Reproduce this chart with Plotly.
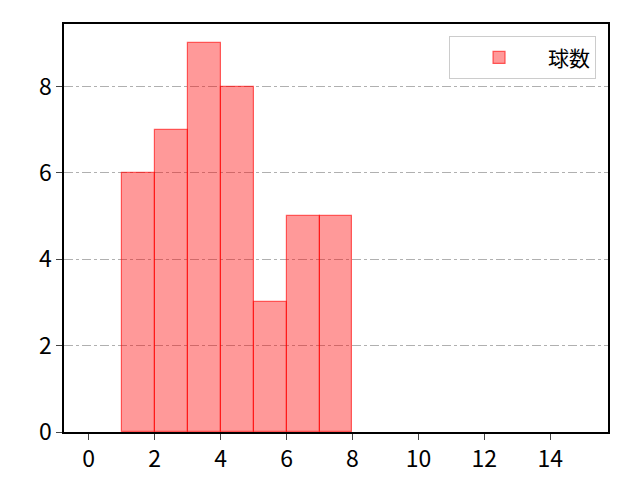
import plotly.graph_objects as go

# histogram bins (left edges) and counts
bin_left = [1, 2, 3, 4, 5, 6, 7]
counts = [6, 7, 9, 8, 3, 5, 5]
x_ticks = [0, 2, 4, 6, 8, 10, 12, 14]
y_ticks = [0, 2, 4, 6, 8]

fig = go.Figure()
fig.add_trace(go.Bar(
    x=[b + 0.5 for b in bin_left],
    y=counts,
    width=1,
    name="球数",
    showlegend=True,
    marker=dict(color="rgba(255,0,0,0.4)",
                line=dict(color="rgba(255,0,0,0.6)", width=1.2)),
))

# page body has an 8px margin, so offsets are trimmed here
fig.update_layout(
    width=640, height=480,
    margin=dict(l=56, r=40, t=16, b=56),
    plot_bgcolor="white",
    paper_bgcolor="white",
    font=dict(family="Noto Sans CJK JP", size=22, color="black"),
    bargap=0,
    legend=dict(x=0.978, y=0.97, xanchor="right", yanchor="top",
                bordercolor="#cccccc", borderwidth=1, bgcolor="white",
                itemwidth=88, font=dict(size=21)),
)
fig.update_xaxes(
    range=[-0.75, 15.75], tickvals=x_ticks, ticks="outside", ticklen=6,
    tickfont=dict(size=23),
    showline=True, linecolor="black", linewidth=1.5, mirror=True,
    showgrid=False, zeroline=False,
)
fig.update_yaxes(
    range=[0, 9.45], tickvals=y_ticks, ticks="outside", ticklen=6,
    tickfont=dict(size=23),
    showline=True, linecolor="black", linewidth=1.5, mirror=True,
    showgrid=True, gridcolor="#b0b0b0", griddash="dashdot", gridwidth=1,
    zeroline=False, layer="above traces",
)

fig.write_html("out.html")
